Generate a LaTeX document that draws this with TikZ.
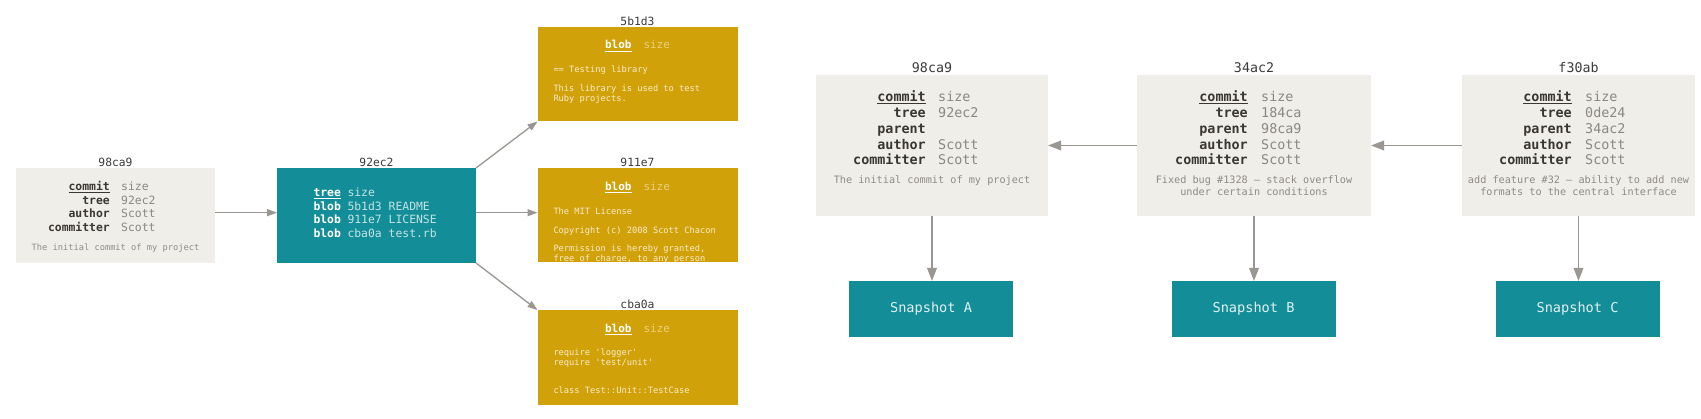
\documentclass[tikz,border=0pt]{standalone}
\usepackage{fontspec}
\setmonofont{DejaVu Sans Mono}
\renewcommand\familydefault{\ttdefault}
\usetikzlibrary{arrows.meta}
\definecolor{boxgray}{HTML}{EFEEE8}
\definecolor{gitteal}{HTML}{138D97}
\definecolor{gitgold}{HTML}{D1A10A}
\definecolor{keydark}{HTML}{3A3632}
\definecolor{valgray}{HTML}{8B8782}
\definecolor{msggray}{HTML}{8F8B86}
\definecolor{tealval}{HTML}{C4E4E6}
\definecolor{goldval}{HTML}{EBCF7E}
\definecolor{goldtext}{HTML}{F8ECCB}
\definecolor{snaptext}{HTML}{E2F1F2}
\definecolor{lblcol}{HTML}{3A3A3A}
\definecolor{arrowgray}{HTML}{9A9691}
\newcommand\ulthick[1]{\leavevmode\vtop{\hbox{#1}\kern1.4pt\hrule height 1.1pt}}
\begin{document}
\begin{tikzpicture}[x=1pt,y=-1pt,
  bgbox/.style={draw=none, inner sep=0pt, outer sep=0pt},
  commitbg/.style={bgbox, fill=boxgray},
  treebg/.style={bgbox, fill=gitteal},
  blobbg/.style={bgbox, fill=gitgold, minimum width=200pt},
  snapbg/.style={bgbox, fill=gitteal, minimum width=164pt, minimum height=56pt, text=snaptext, font=\fontsize{13.6}{16}\selectfont},
  hashS/.style={inner sep=0pt, anchor=base, text=lblcol, font=\fontsize{11.3}{13}\selectfont},
  hashL/.style={hashS, font=\fontsize{13.3}{16}\selectfont},
  keyS/.style={inner sep=0pt, anchor=base east, text=keydark, font=\fontsize{11.4}{13.7}\selectfont\bfseries},
  valS/.style={inner sep=0pt, anchor=base west, text=valgray, font=\fontsize{11.4}{13.7}\selectfont},
  keyL/.style={keyS, font=\fontsize{13.4}{15.8}\selectfont\bfseries},
  valL/.style={valS, font=\fontsize{13.4}{15.8}\selectfont},
  msgS/.style={inner sep=0pt, anchor=base, text=msggray, font=\fontsize{8.7}{10}\selectfont},
  msgL/.style={msgS, font=\fontsize{10.2}{12}\selectfont},
  treekey/.style={inner sep=0pt, anchor=base west, text=white, font=\fontsize{11.4}{13.5}\selectfont\bfseries},
  treeval/.style={inner sep=0pt, anchor=base west, text=tealval, font=\fontsize{11.4}{13.5}\selectfont},
  blobhead/.style={inner sep=0pt, anchor=base, font=\fontsize{11}{13}\selectfont},
  blobtext/.style={inner sep=0pt, anchor=base west, text=goldtext, font=\fontsize{8.7}{9.5}\selectfont},
  connS/.style={draw=arrowgray, line width=1.3pt, -{Triangle[length=10pt,width=7pt]}},
  connL/.style={draw=arrowgray, line width=1.8pt, -{Triangle[length=13pt,width=9.5pt]}}
]
\fill[white] (0,0) rectangle (1701,419);
\useasboundingbox (0,0) rectangle (1701,419);

% ---------- left: commit -> tree -> blobs ----------
\node[commitbg, minimum width=199pt, minimum height=95pt] (lc) at (115.5,215.5) {};
\node[hashS] (lch) at (115.5,166.5) {98ca9};
\node[keyS] (lck) at (110,190.5) {\begin{tabular}[t]{@{}r@{}}\ulthick{commit}\\tree\\author\\committer\end{tabular}};
\node[valS] (lcv) at (121,190.5) {\begin{tabular}[t]{@{}l@{}}size\\92ec2\\Scott\\Scott\end{tabular}};
\node[msgS] (lcm) at (115.5,250.5) {The initial commit of my project};

\node[treebg, minimum width=199pt, minimum height=95pt] (tr) at (376.5,215.5) {};
\node[hashS] (trh) at (376.5,166.5) {92ec2};
\node[treekey] (trk) at (313.3,196.7) {\begin{tabular}[t]{@{}l@{}}\ulthick{tree}\\blob\\blob\\blob\end{tabular}};
\node[treeval] (trv) at (347.3,196.7) {\begin{tabular}[t]{@{}l@{}}size\\5b1d3 README\\911e7 LICENSE\\cba0a test.rb\end{tabular}};

\node[blobbg, minimum height=94pt] (b1) at (637.5,74.5) {};
\node[hashS] (b1h) at (637.5,25.5) {5b1d3};
\node[blobhead] (b1t) at (637.5,49) {{\color{white}\bfseries\ulthick{blob}}\hspace{12pt}{\color{goldval}size}};
\node[blobtext] (b1a) at (553.3,72.3) {== Testing library};
\node[blobtext] (b1b) at (553.3,91.7) {\begin{tabular}[t]{@{}l@{}}This library is used to test\\Ruby projects.\end{tabular}};

\node[blobbg, minimum height=94pt] (b2) at (637.5,215) {};
\node[hashS] (b2h) at (637.5,166.5) {911e7};
\node[blobhead] (b2t) at (637.5,190.7) {{\color{white}\bfseries\ulthick{blob}}\hspace{12pt}{\color{goldval}size}};
\begin{scope}
\clip (537.5,168) rectangle (737.5,262);
\node[blobtext] (b2a) at (553.3,214.3) {The MIT License};
\node[blobtext] (b2b) at (553.3,233.3) {Copyright (c) 2008 Scott Chacon};
\node[blobtext] (b2c) at (553.3,251.7) {\begin{tabular}[t]{@{}l@{}}Permission is hereby granted,\\free of charge, to any person\end{tabular}};
\end{scope}

\node[blobbg, minimum height=95pt] (b3) at (637.5,357.5) {};
\node[hashS] (b3h) at (637.5,308.5) {cba0a};
\node[blobhead] (b3t) at (637.5,332.7) {{\color{white}\bfseries\ulthick{blob}}\hspace{12pt}{\color{goldval}size}};
\node[blobtext] (b3a) at (553.3,355.7) {\begin{tabular}[t]{@{}l@{}}require 'logger'\\require 'test/unit'\end{tabular}};
\node[blobtext] (b3b) at (553.3,394) {class Test::Unit::TestCase};

\draw[connS] ([yshift=2.8pt]lc.east) -- ([yshift=2.8pt]tr.west);
\draw[connS] (tr.north east) -- (b1.south west);
\draw[connS] ([yshift=2.8pt]tr.east) -- ([yshift=2.8pt]tr.east -| b2.west);
\draw[connS] (tr.south east) -- (b3.north west);

% ---------- right: commits and snapshots ----------
\node[commitbg, minimum width=232pt, minimum height=141pt] (c1) at (932,145.5) {};
\node[hashL] (c1h) at (932,72.3) {98ca9};
\node[keyL] (c1k) at (926,101.7) {\begin{tabular}[t]{@{}r@{}}\ulthick{commit}\\tree\\parent\\author\\committer\end{tabular}};
\node[valL] (c1v) at (938,101.7) {\begin{tabular}[t]{@{}l@{}}size\\92ec2\\\mbox{}\\Scott\\Scott\end{tabular}};
\node[msgL] (c1m) at (932,183.8) {The initial commit of my project};

\node[commitbg, minimum width=234pt, minimum height=141pt] (c2) at (1254,145.5) {};
\node[hashL] (c2h) at (1254,72.3) {34ac2};
\node[keyL] (c2k) at (1248,101.7) {\begin{tabular}[t]{@{}r@{}}\ulthick{commit}\\tree\\parent\\author\\committer\end{tabular}};
\node[valL] (c2v) at (1261,101.7) {\begin{tabular}[t]{@{}l@{}}size\\184ca\\98ca9\\Scott\\Scott\end{tabular}};
\node[msgL] (c2m) at (1254,184) {\begin{tabular}[t]{@{}c@{}}Fixed bug \#1328 – stack overflow\\under certain conditions\end{tabular}};

\node[commitbg, minimum width=233pt, minimum height=141pt] (c3) at (1578.5,145.5) {};
\node[hashL] (c3h) at (1578.5,72.3) {f30ab};
\node[keyL] (c3k) at (1572,101.7) {\begin{tabular}[t]{@{}r@{}}\ulthick{commit}\\tree\\parent\\author\\committer\end{tabular}};
\node[valL] (c3v) at (1585,101.7) {\begin{tabular}[t]{@{}l@{}}size\\0de24\\34ac2\\Scott\\Scott\end{tabular}};
\node[msgL] (c3m) at (1578.5,184) {\begin{tabular}[t]{@{}c@{}}add feature \#32 – ability to add new\\formats to the central interface\end{tabular}};

\node[snapbg] (sa) at (931,309) {Snapshot A};
\node[snapbg] (sb) at (1253.5,309) {Snapshot B};
\node[snapbg] (sc) at (1577.5,309) {Snapshot C};

\draw[connL] (c2.west) -- (c1.east);
\draw[connL] (c3.west) -- (c2.east);
\draw[connL] (c1.south) -- (c1.south |- sa.north);
\draw[connL] (c2.south) -- (c2.south |- sb.north);
\draw[connL] (c3.south) -- (c3.south |- sc.north);
\end{tikzpicture}
\end{document}
